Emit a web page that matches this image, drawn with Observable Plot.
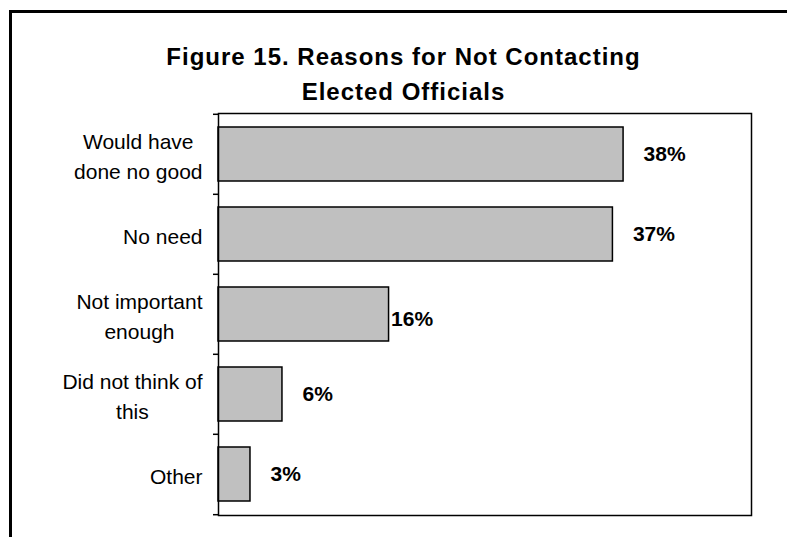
<!DOCTYPE html>
<html><head><meta charset="utf-8">
<script src="https://cdn.jsdelivr.net/npm/d3@7"></script>
<script src="https://cdn.jsdelivr.net/npm/@observablehq/plot@0.6"></script>
<style>
body{margin:0;background:#fff;font-family:"Liberation Sans",Arial,sans-serif;}
#wrap{position:relative;width:787px;height:537px;overflow:hidden;background:#fff;}
#frame{position:absolute;left:9px;top:10px;width:800px;height:600px;border-left:3px solid #000;border-top:3px solid #000;}
#chart{position:absolute;left:0;top:0;}
#title{position:absolute;left:0;top:38.5px;width:807px;text-align:center;font-weight:bold;font-size:24px;letter-spacing:1px;line-height:35px;color:#000;}
</style></head><body>
<div id="wrap"><div id="frame"></div><div id="chart"></div><div id="title">Figure 15. Reasons for Not Contacting<br>Elected Officials</div></div>
<script>
const categories = ["Would have\ndone no good", "No need", "Not important\nenough", "Did not think of\nthis", "Other"];
const values = [38, 37, 16, 6, 3];
const xDomain = [0, 50];

const data = categories.map((c, i) => ({category: c, value: values[i]}));

const W = 787, H = 537, mL = 218, mR = 36, mT = 113, mB = 22;
const half = (H - mT - mB) / categories.length / 2;
const font = "'Liberation Sans', Arial, sans-serif";
const special = categories[2];

const chart = Plot.plot({
  width: W, height: H,
  marginLeft: mL, marginRight: mR, marginTop: mT, marginBottom: mB,
  style: {background: "transparent", fontFamily: font, color: "#000"},
  x: {domain: xDomain, axis: null},
  y: {domain: categories, paddingInner: 0.33, paddingOuter: 0.165, label: null},
  marks: [
    Plot.barX(data, {x: "value", y: "category", fill: "#c0c0c0", stroke: "#000", strokeWidth: 1.5}),
    Plot.frame({stroke: "#000", strokeWidth: 1.5}),
    Plot.axisY({tickSize: 0, tickPadding: 16, fontSize: 21, lineHeight: 1.43, label: null, fill: "#000"}),
    Plot.axisY({ticks: categories, tickSize: 5, tickFormat: () => "", dy: -half, strokeWidth: 1.5, stroke: "#000", label: null}),
    Plot.axisY({ticks: [categories[categories.length - 1]], tickSize: 5, tickFormat: () => "", dy: half, strokeWidth: 1.5, stroke: "#000", label: null}),
    Plot.text(data, {filter: d => d.category !== special, x: "value", y: "category", text: d => d.value + "%", textAnchor: "start", dx: 20, fontWeight: "bold", fontSize: 21, fill: "#000"}),
    Plot.text(data, {filter: d => d.category === special, x: "value", y: "category", text: d => d.value + "%", textAnchor: "start", dx: 2, dy: 5, fontWeight: "bold", fontSize: 21, fill: "#000"})
  ]
});
document.getElementById("chart").appendChild(chart);

// center the lines of each multi-line category label within its block (right-aligned block)
chart.querySelectorAll('g[aria-label="y-axis tick label"] text').forEach(t => {
  const spans = t.querySelectorAll("tspan");
  if (spans.length > 1) {
    let w = 0;
    spans.forEach(s => { w = Math.max(w, s.getComputedTextLength()); });
    t.setAttribute("text-anchor", "middle");
    spans.forEach(s => s.setAttribute("x", -w / 2));
  }
});
</script>
</body></html>
